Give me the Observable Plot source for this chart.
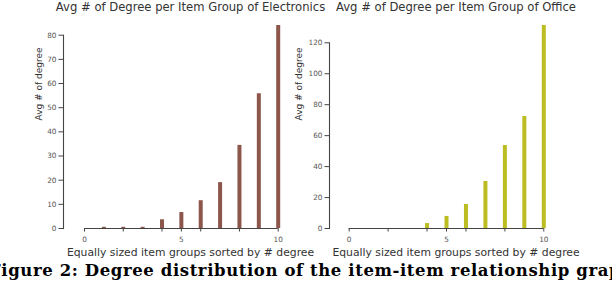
<!DOCTYPE html>
<html><head><meta charset="utf-8">
<script src="https://cdn.jsdelivr.net/npm/d3@7"></script>
<script src="https://cdn.jsdelivr.net/npm/@observablehq/plot@0.6"></script>
<style>
html,body{margin:0;padding:0;background:#fff;}
#wrap{position:relative;width:612px;height:292px;overflow:hidden;background:#fff;}
#wrap svg{position:absolute;left:0;top:0;}
#wrap svg g[font-weight="bold"] text{letter-spacing:0.6px;}
</style></head><body><div id="wrap"></div>
<script>
const groups = [1, 2, 3, 4, 5, 6, 7, 8, 9, 10];
const electronics = [0.5, 0.5, 0.5, 3.6, 6.6, 11.5, 19.0, 34.4, 55.8, 84.0];
const office = [0, 0, 0, 3.2, 7.8, 15.5, 30.4, 53.6, 72.4, 131.2];
const xTicks = [0, 2, 4, 5, 6, 8, 10];
const xTickLabels = [0, 5, 10];
const yTicksElectronics = [0, 10, 20, 30, 40, 50, 60, 70, 80];
const yTicksOffice = [0, 20, 40, 60, 80, 100, 120];
const titles = ["Avg # of Degree per Item Group of Electronics", "Avg # of Degree per Item Group of Office"];
const xLabel = "Equally sized item groups sorted by # degree";
const yLabel = "Avg # of degree";
const caption = "Figure 2: Degree distribution of the item-item relationship graph";

const axisColor = "#444";
const tickText = "#555";
const textColor = "#333";

function chart({values, color, yTicks, yMax, xRange, yTop, marginLeft, marginRight, title, yLabelDx, yLabelDy, extra = []}) {
  const data = groups.map((g, i) => ({g, v: values[i]}));
  return Plot.plot({
    width: 612, height: 292,
    marginLeft, marginRight, marginTop: yTop, marginBottom: 64,
    x: {domain: [0, 10], range: xRange},
    y: {domain: [0, yMax], range: [228, yTop]},
    style: {background: "transparent", overflow: "visible", fontFamily: "DejaVu Sans", fontSize: "7.3px", color: tickText},
    marks: [
      Plot.ruleX(data, {x: "g", y: "v", stroke: color, strokeWidth: 4}),
      Plot.frame({anchor: "left", stroke: axisColor, strokeWidth: 1.1}),
      Plot.ruleY([0], {x1: 0, x2: 10, stroke: axisColor, strokeWidth: 1.1}),
      Plot.axisX({ticks: xTicks, tickFormat: d => xTickLabels.includes(d) ? String(d) : "", tickSize: 3.5, tickPadding: 5, stroke: axisColor, fill: tickText, fontSize: 7.3, label: null}),
      Plot.axisY({ticks: yTicks, tickSize: 4.5, tickPadding: 2.5, stroke: axisColor, fill: tickText, fontSize: 7.3, label: null}),
      Plot.text([title], {text: d => d, frameAnchor: "top", lineAnchor: "bottom", dy: 10 - yTop, fontSize: 11.6, fill: textColor}),
      Plot.text([xLabel], {text: d => d, frameAnchor: "bottom", lineAnchor: "bottom", dy: 27, fontSize: 10.8, fill: textColor}),
      Plot.text([yLabel], {text: d => d, frameAnchor: "left", lineAnchor: "bottom", rotate: -90, dx: yLabelDx, dy: yLabelDy, fontSize: 9, fill: textColor}),
      ...extra
    ]
  });
}

const wrap = document.getElementById("wrap");
wrap.appendChild(chart({
  values: electronics, color: "#8c564b", yTicks: yTicksElectronics, yMax: 80,
  xRange: [84, 277.7], yTop: 34.7, marginLeft: 63, marginRight: 295,
  title: titles[0], yLabelDx: -21.3, yLabelDy: -11.35,
  extra: [
    Plot.text([caption], {text: d => d, frameAnchor: "bottom-left", textAnchor: "start", lineAnchor: "bottom", dx: -74.5, dy: 47.5, fontFamily: "DejaVu Serif", fontWeight: "bold", fontSize: 16.5, fill: "#000"})
  ]
}));
wrap.appendChild(chart({
  values: office, color: "#bcbd22", yTicks: yTicksOffice, yMax: 120,
  xRange: [348.7, 543.3], yTop: 42.3, marginLeft: 329, marginRight: 30,
  title: titles[1], yLabelDx: -27.3, yLabelDy: -15.15
}));
</script>
</body></html>
